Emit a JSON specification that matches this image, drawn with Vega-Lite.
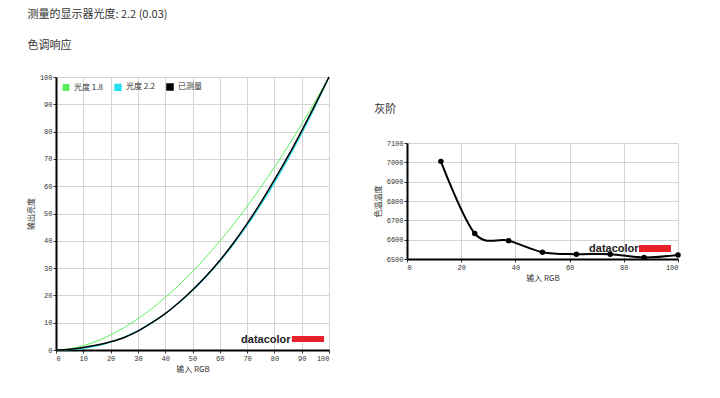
{
  "$schema": "https://vega.github.io/schema/vega-lite/v6.json",
  "background": "white",
  "padding": {"left": 27, "top": 9, "right": 5, "bottom": 5},
  "title": {"text": "测量的显示器光度: 2.2 (0.03)", "anchor": "start", "frame": "bounds", "font": "Noto Sans CJK SC", "fontSize": 11, "fontWeight": "normal", "color": "#333333", "offset": 20},
  "spacing": 42,
  "hconcat": [
    {
      "title": {"text": "色调响应", "anchor": "start", "frame": "bounds", "font": "Noto Sans CJK SC", "fontSize": 11, "fontWeight": "normal", "color": "#333333", "offset": 22},
      "width": 273,
      "height": 273,
      "layer": [
        {
          "data": {"values": [
            {"x": 0, "y": 0, "series": "光度 1.8"}, {"x": 5, "y": 0.45, "series": "光度 1.8"}, {"x": 10, "y": 1.58, "series": "光度 1.8"}, {"x": 15, "y": 3.29, "series": "光度 1.8"}, {"x": 20, "y": 5.52, "series": "光度 1.8"}, {"x": 25, "y": 8.25, "series": "光度 1.8"}, {"x": 30, "y": 11.45, "series": "光度 1.8"}, {"x": 35, "y": 15.11, "series": "光度 1.8"}, {"x": 40, "y": 19.22, "series": "光度 1.8"}, {"x": 45, "y": 23.76, "series": "光度 1.8"}, {"x": 50, "y": 28.72, "series": "光度 1.8"}, {"x": 55, "y": 34.09, "series": "光度 1.8"}, {"x": 60, "y": 39.87, "series": "光度 1.8"}, {"x": 65, "y": 46.05, "series": "光度 1.8"}, {"x": 70, "y": 52.63, "series": "光度 1.8"}, {"x": 75, "y": 59.58, "series": "光度 1.8"}, {"x": 80, "y": 66.92, "series": "光度 1.8"}, {"x": 85, "y": 74.64, "series": "光度 1.8"}, {"x": 90, "y": 82.72, "series": "光度 1.8"}, {"x": 95, "y": 91.18, "series": "光度 1.8"}, {"x": 100, "y": 100, "series": "光度 1.8"},
            {"x": 0, "y": 0, "series": "光度 2.2"}, {"x": 5, "y": 0.14, "series": "光度 2.2"}, {"x": 10, "y": 0.63, "series": "光度 2.2"}, {"x": 15, "y": 1.54, "series": "光度 2.2"}, {"x": 20, "y": 2.9, "series": "光度 2.2"}, {"x": 25, "y": 4.74, "series": "光度 2.2"}, {"x": 30, "y": 7.07, "series": "光度 2.2"}, {"x": 35, "y": 9.93, "series": "光度 2.2"}, {"x": 40, "y": 13.32, "series": "光度 2.2"}, {"x": 45, "y": 17.26, "series": "光度 2.2"}, {"x": 50, "y": 21.76, "series": "光度 2.2"}, {"x": 55, "y": 26.85, "series": "光度 2.2"}, {"x": 60, "y": 32.51, "series": "光度 2.2"}, {"x": 65, "y": 38.76, "series": "光度 2.2"}, {"x": 70, "y": 45.62, "series": "光度 2.2"}, {"x": 75, "y": 53.1, "series": "光度 2.2"}, {"x": 80, "y": 61.21, "series": "光度 2.2"}, {"x": 85, "y": 69.94, "series": "光度 2.2"}, {"x": 90, "y": 79.31, "series": "光度 2.2"}, {"x": 95, "y": 89.33, "series": "光度 2.2"}, {"x": 100, "y": 100, "series": "光度 2.2"},
            {"x": 0, "y": 0, "series": "已测量"}, {"x": 5, "y": 0.3, "series": "已测量"}, {"x": 10, "y": 0.9, "series": "已测量"}, {"x": 15, "y": 1.8, "series": "已测量"}, {"x": 20, "y": 3.0, "series": "已测量"}, {"x": 25, "y": 4.6, "series": "已测量"}, {"x": 30, "y": 6.9, "series": "已测量"}, {"x": 35, "y": 9.9, "series": "已测量"}, {"x": 40, "y": 13.3, "series": "已测量"}, {"x": 45, "y": 17.4, "series": "已测量"}, {"x": 50, "y": 22.0, "series": "已测量"}, {"x": 55, "y": 27.1, "series": "已测量"}, {"x": 60, "y": 32.8, "series": "已测量"}, {"x": 65, "y": 39.2, "series": "已测量"}, {"x": 70, "y": 46.3, "series": "已测量"}, {"x": 75, "y": 54.0, "series": "已测量"}, {"x": 80, "y": 62.3, "series": "已测量"}, {"x": 85, "y": 71.0, "series": "已测量"}, {"x": 90, "y": 80.3, "series": "已测量"}, {"x": 95, "y": 90.0, "series": "已测量"}, {"x": 100, "y": 100, "series": "已测量"}
          ]},
          "mark": {"type": "line", "interpolate": "monotone"},
          "encoding": {
            "x": {"field": "x", "type": "quantitative", "scale": {"domain": [0, 100], "nice": false}, "axis": {"title": "输入 RGB", "values": [0, 10, 20, 30, 40, 50, 60, 70, 80, 90, 100], "labelOverlap": false}},
            "y": {"field": "y", "type": "quantitative", "scale": {"domain": [0, 100], "nice": false}, "axis": {"title": "输出亮度", "values": [0, 10, 20, 30, 40, 50, 60, 70, 80, 90, 100], "labelOverlap": false}},
            "color": {"field": "series", "type": "nominal", "scale": {"domain": ["光度 1.8", "光度 2.2", "已测量"], "range": ["#5cf05c", "#22e0ee", "#000000"]},
              "legend": {"title": null, "orient": "top-left", "direction": "horizontal", "offset": 6, "symbolType": "square", "symbolSize": 36, "labelFont": "Noto Sans CJK SC", "labelFontSize": 8, "labelColor": "#333333", "columnPadding": 9, "padding": 0,
                "encode": {"symbols": {"update": {"fill": {"scale": "color", "field": "value"}, "stroke": {"value": "#333333"}, "strokeWidth": {"value": 1}}}}}},
            "strokeWidth": {"field": "series", "type": "nominal", "scale": {"domain": ["光度 1.8", "光度 2.2", "已测量"], "range": [1, 1.5, 2]}, "legend": null}
          }
        },
        {
          "data": {"values": [{}]},
          "mark": {"type": "text", "text": "datacolor", "font": "Liberation Sans", "fontWeight": "bold", "fontSize": 11, "align": "left", "baseline": "alphabetic", "color": "#222222"},
          "encoding": {
            "x": {"datum": 67.8, "type": "quantitative", "axis": {"title": "输入 RGB", "values": [0, 10, 20, 30, 40, 50, 60, 70, 80, 90, 100], "labelOverlap": false}},
            "y": {"datum": 2.6, "type": "quantitative", "axis": {"title": "输出亮度", "values": [0, 10, 20, 30, 40, 50, 60, 70, 80, 90, 100], "labelOverlap": false}}
          }
        },
        {
          "data": {"values": [{}]},
          "mark": {"type": "rect", "color": "#e8202a"},
          "encoding": {
            "x": {"datum": 86.4, "type": "quantitative", "axis": {"title": "输入 RGB", "values": [0, 10, 20, 30, 40, 50, 60, 70, 80, 90, 100], "labelOverlap": false}},
            "x2": {"datum": 98.2},
            "y": {"datum": 5.1, "type": "quantitative", "axis": {"title": "输出亮度", "values": [0, 10, 20, 30, 40, 50, 60, 70, 80, 90, 100], "labelOverlap": false}},
            "y2": {"datum": 2.9}
          }
        }
      ]
    },
    {
      "spacing": 26,
      "vconcat": [
        {"data": {"values": []}, "mark": "point", "width": 10, "height": 1},
        {
          "title": {"text": "灰阶", "anchor": "start", "frame": "bounds", "font": "Noto Sans CJK SC", "fontSize": 11, "fontWeight": "normal", "color": "#333333", "offset": 24},
          "width": 271,
          "height": 116,
          "layer": [
            {
              "data": {"values": [
                {"x": 12.5, "k": 7005}, {"x": 25, "k": 6632}, {"x": 37.5, "k": 6595}, {"x": 50, "k": 6535}, {"x": 62.5, "k": 6525}, {"x": 75, "k": 6525}, {"x": 87.5, "k": 6508}, {"x": 100, "k": 6521}
              ]},
              "mark": {"type": "line", "interpolate": "cardinal", "color": "#000000", "strokeWidth": 2, "point": {"filled": true, "size": 30, "color": "#000000"}},
              "encoding": {
                "x": {"field": "x", "type": "quantitative", "scale": {"domain": [0, 100], "nice": false}, "axis": {"title": "输入 RGB", "values": [0, 20, 40, 60, 80, 100], "labelOverlap": false}},
                "y": {"field": "k", "type": "quantitative", "scale": {"domain": [6500, 7100], "nice": false, "zero": false}, "axis": {"title": "色温温度", "format": "d", "values": [6500, 6600, 6700, 6800, 6900, 7000, 7100], "labelOverlap": false}}
              }
            },
            {
              "data": {"values": [{}]},
              "mark": {"type": "text", "text": "datacolor", "font": "Liberation Sans", "fontWeight": "bold", "fontSize": 11, "align": "left", "baseline": "alphabetic", "color": "#222222"},
              "encoding": {
                "x": {"datum": 67.2, "type": "quantitative", "axis": {"title": "输入 RGB", "values": [0, 20, 40, 60, 80, 100], "labelOverlap": false}},
                "y": {"datum": 6536, "type": "quantitative", "axis": {"title": "色温温度", "format": "d", "values": [6500, 6600, 6700, 6800, 6900, 7000, 7100], "labelOverlap": false}}
              }
            },
            {
              "data": {"values": [{}]},
              "mark": {"type": "rect", "color": "#e8202a"},
              "encoding": {
                "x": {"datum": 85.6, "type": "quantitative", "axis": {"title": "输入 RGB", "values": [0, 20, 40, 60, 80, 100], "labelOverlap": false}},
                "x2": {"datum": 97.4},
                "y": {"datum": 6572, "type": "quantitative", "axis": {"title": "色温温度", "format": "d", "values": [6500, 6600, 6700, 6800, 6900, 7000, 7100], "labelOverlap": false}},
                "y2": {"datum": 6536}
              }
            }
          ]
        }
      ]
    }
  ],
  "config": {
    "view": {"stroke": null},
    "axis": {
      "labelFont": "Liberation Mono",
      "labelFontSize": 7,
      "labelColor": "#333333",
      "labelPadding": 1,
      "titleFont": "Noto Sans CJK SC",
      "titleFontSize": 8,
      "titleFontWeight": "normal",
      "titleColor": "#333333",
      "titlePadding": 4,
      "gridColor": "#d4d4d4",
      "gridWidth": 1,
      "domainColor": "#000000",
      "domainWidth": 2,
      "tickColor": "#333333",
      "tickSize": 3
    }
  }
}
